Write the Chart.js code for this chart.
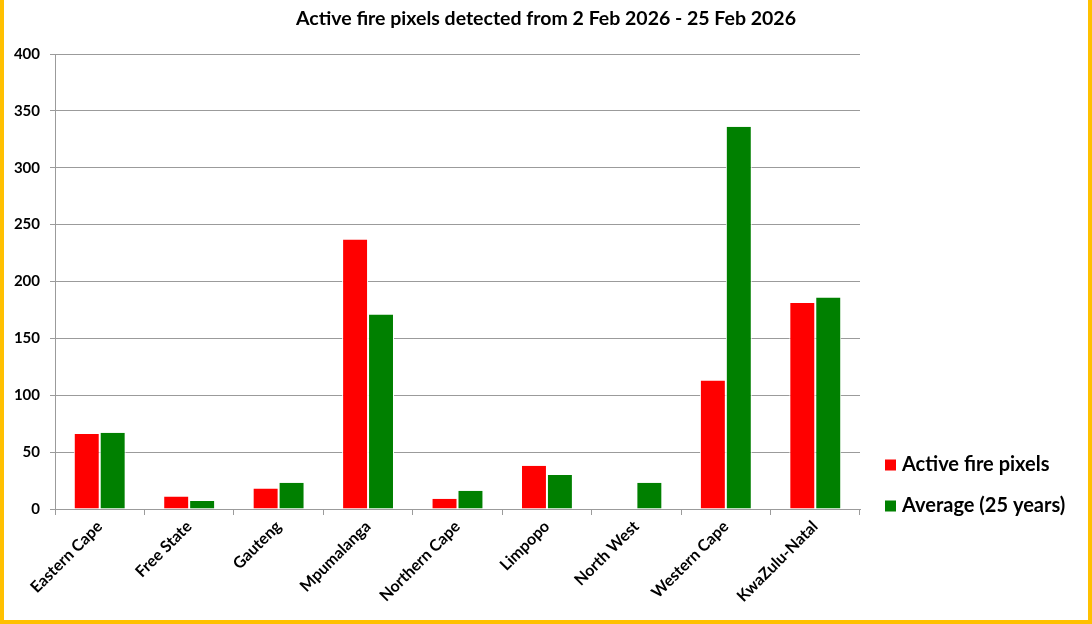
<!DOCTYPE html>
<html>
<head>
<meta charset="utf-8">
<script src="https://cdn.jsdelivr.net/npm/chart.js@4/dist/chart.umd.min.js"></script>
<style>
  html, body { margin: 0; padding: 0; background: #ffffff; }
  #frame {
    position: absolute; left: 0; top: 0;
    width: 1092px; height: 624px;
    box-sizing: border-box;
    border-left: 4px solid #FFC000;
    border-right: 4px solid #FFC000;
    border-bottom: 4px solid #FFC000;
    background: #ffffff;
  }
  canvas { display: block; }
</style>
</head>
<body>
<div id="frame"><canvas id="chart" width="1084" height="620"></canvas></div>
<script>
// Provinces and fire pixel counts
const provinces = ["Eastern Cape", "Free State", "Gauteng", "Mpumalanga", "Northern Cape",
                   "Limpopo", "North West", "Western Cape", "KwaZulu-Natal"];
const activeFirePixels = [66, 11, 18, 237, 9, 38, 0, 113, 181];
const average25Years   = [67, 7, 23, 171, 16, 30, 23, 336, 186];
const seriesNames = ["Active fire pixels", "Average (25 years)"];
const yTicks = [0, 50, 100, 150, 200, 250, 300, 350, 400];
const chartTitle = "Active fire pixels detected from 2 Feb 2026 - 25 Feb 2026";

const FONT = "Lato";
const GRID = "#9b9b9b";

// Title centred across the full canvas, legend at the lower right beside the plot
const titleAndLegend = {
  id: "titleAndLegend",
  afterDraw(chart) {
    const ctx = chart.ctx;
    ctx.save();
    ctx.fillStyle = "#000000";
    ctx.font = "bold 19.5px " + FONT;
    ctx.textAlign = "center";
    ctx.textBaseline = "middle";
    ctx.fillText(chartTitle, chart.width / 2, 19);

    const rows = [465, 506];
    ctx.font = "bold 20px " + FONT;
    ctx.textAlign = "left";
    chart.data.datasets.forEach((ds, i) => {
      const y = rows[i];
      ctx.fillStyle = ds.backgroundColor;
      ctx.fillRect(881, y - 5.5, 11, 11);
      ctx.fillStyle = "#000000";
      ctx.fillText(ds.label, 898, y);
    });
    ctx.restore();
  }
};

// Thin white edges on the bar sides only
const barEdges = { left: 1, right: 1, top: 0, bottom: 0 };

new Chart(document.getElementById("chart"), {
  type: "bar",
  data: {
    labels: provinces,
    datasets: [
      { label: seriesNames[0], data: activeFirePixels, backgroundColor: "#ff0000",
        borderColor: "#ffffff", borderWidth: barEdges, borderSkipped: false,
        barPercentage: 1, categoryPercentage: 0.58 },
      { label: seriesNames[1], data: average25Years, backgroundColor: "#008000",
        borderColor: "#ffffff", borderWidth: barEdges, borderSkipped: false,
        barPercentage: 1, categoryPercentage: 0.58 }
    ]
  },
  options: {
    responsive: false,
    animation: false,
    devicePixelRatio: 1,
    layout: { padding: { left: 0, right: 228, top: 54, bottom: 0 } },
    plugins: {
      legend: { display: false },
      tooltip: { enabled: false },
      title: { display: false }
    },
    scales: {
      x: {
        grid: { display: true, drawOnChartArea: false, drawTicks: true, tickLength: 6, color: GRID, offset: true },
        border: { display: true, color: GRID, width: 1 },
        ticks: {
          color: "#000000", font: { family: FONT, size: 16, weight: "bold" },
          maxRotation: 45, minRotation: 45, autoSkip: false, padding: 2
        },
        afterFit(scale) { scale.height = 111; }
      },
      y: {
        min: 0, max: 400,
        afterBuildTicks(scale) { scale.ticks = yTicks.map(v => ({ value: v })); },
        grid: { color: GRID, tickLength: 5, lineWidth: 1 },
        border: { display: true, color: GRID, width: 1 },
        ticks: { color: "#000000", font: { family: FONT, size: 15, weight: "bold" }, padding: 10 },
        afterFit(scale) { scale.width = 51; }
      }
    }
  },
  plugins: [titleAndLegend]
});
</script>
</body>
</html>
